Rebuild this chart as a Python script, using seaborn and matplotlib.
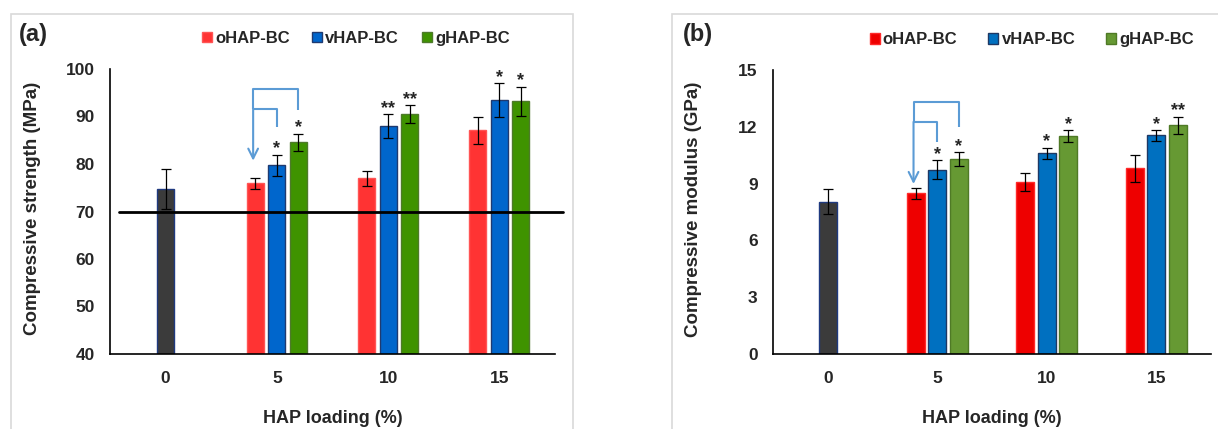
import numpy as np
import pandas as pd
import matplotlib
matplotlib.use("Agg")
import matplotlib.pyplot as plt
import seaborn as sns
from matplotlib.patches import Rectangle
from matplotlib.ticker import AutoMinorLocator, MultipleLocator

# ---------------- data ----------------
loading = ["0", "5", "10", "15"]
series = ["oHAP-BC", "vHAP-BC", "gHAP-BC"]
control_name = "BC"

strength_control = 74.8
strength_control_sd = 4.2
strength_oHAP = [75.9, 77.0, 87.1]
strength_oHAP_sd = [1.1, 1.6, 2.8]
strength_vHAP = [79.7, 88.0, 93.5]
strength_vHAP_sd = [2.3, 2.5, 3.5]
strength_gHAP = [84.6, 90.5, 93.2]
strength_gHAP_sd = [1.8, 1.9, 3.1]
strength_stars_v = ["*", "**", "*"]
strength_stars_g = ["*", "**", "*"]
strength_threshold = 70

modulus_control = 8.05
modulus_control_sd = 0.65
modulus_oHAP = [8.49, 9.10, 9.81]
modulus_oHAP_sd = [0.30, 0.48, 0.70]
modulus_vHAP = [9.74, 10.60, 11.55]
modulus_vHAP_sd = [0.50, 0.30, 0.28]
modulus_gHAP = [10.28, 11.51, 12.09]
modulus_gHAP_sd = [0.37, 0.30, 0.45]
modulus_stars_v = ["*", "*", "*"]
modulus_stars_g = ["*", "*", "**"]

# comparison bracket levels (data units)
bracket_a = dict(top=95.7, inner=91.5, inner_drop=87.7, outer_drop=91.4, tip=80.7)
bracket_b = dict(top=13.32, inner=12.26, inner_drop=11.2, outer_drop=12.0, tip=8.98)

# ---------------- style ----------------
sns.set_style("white")
plt.rcParams["font.family"] = ["Liberation Sans", "DejaVu Sans"]
plt.rcParams["font.weight"] = "bold"
plt.rcParams["axes.labelweight"] = "bold"

W, H = 1218, 429
fig = plt.figure(figsize=(W / 100, H / 100), dpi=100)
fig.patch.set_facecolor("white")

ax1 = fig.add_axes([110 / W, 75 / H, 445 / W, 285 / H])
ax2 = fig.add_axes([773 / W, 75 / H, 438 / W, 284 / H])

bracket_color = "#5B9BD5"
TICK_FS = 12.5
LABEL_FS = 13.5
LEG_FS = 12


def build_df(vals, sds):
    rows = []
    for s, v, e in zip(series, vals, sds):
        for l, vv, ee in zip(loading[1:], v, e):
            rows.append(dict(loading=l, series=s, value=vv, sd=ee))
    return pd.DataFrame(rows)


def draw_panel(ax, ctrl, ctrl_sd, vals, sds, stars_v, stars_g, faces, edges,
               ctrl_face, ctrl_edge, width, gap, ctrl_width, bracket):
    df = build_df(vals, sds)
    dfc = pd.DataFrame(dict(loading=[loading[0]], series=[control_name],
                            value=[ctrl], sd=[ctrl_sd]))
    sns.barplot(data=df, x="loading", y="value", hue="series", order=loading,
                hue_order=series, palette=dict(zip(series, faces)),
                width=width, gap=gap, errorbar=None, saturation=1,
                legend=False, ax=ax)
    cont_series = list(ax.containers)
    sns.barplot(data=dfc, x="loading", y="value", order=loading,
                color=ctrl_face, width=ctrl_width, errorbar=None,
                saturation=1, ax=ax)
    cont_ctrl = ax.containers[-1]

    sd_lookup = {(r.series, r.loading): r.sd for r in df.itertuples()}
    sd_lookup[(control_name, loading[0])] = ctrl_sd
    star_lookup = {}
    for l, sv, sg in zip(loading[1:], stars_v, stars_g):
        star_lookup[(series[1], l)] = sv
        star_lookup[(series[2], l)] = sg

    centers = {}
    groups = list(zip(series, cont_series, edges)) + [(control_name, cont_ctrl, ctrl_edge)]
    for name, cont, ec in groups:
        for bar in cont:
            h = bar.get_height()
            if not np.isfinite(h) or h == 0:
                continue
            cx = bar.get_x() + bar.get_width() / 2
            lab = loading[int(round(cx))]
            bar.set_edgecolor(ec)
            bar.set_linewidth(1.0)
            centers[(name, lab)] = (cx, h)
            sd = sd_lookup[(name, lab)]
            ax.errorbar(cx, h, yerr=sd, fmt="none", ecolor="black",
                        elinewidth=0.9, capsize=3.5, capthick=0.9, zorder=5)
            st = star_lookup.get((name, lab))
            if st:
                ax.annotate(st, xy=(cx, h + sd), xytext=(0, 1.0),
                            textcoords="offset points", ha="center",
                            va="baseline", fontsize=13, fontweight="bold",
                            zorder=6)

    # comparison bracket at 5 %
    xr = centers[(series[0], loading[1])][0] - 0.02
    xv = centers[(series[1], loading[1])][0]
    xg = centers[(series[2], loading[1])][0]
    kw = dict(color=bracket_color, lw=1.5, solid_capstyle="butt", zorder=4)
    ax.plot([xr, xr, xg, xg], [bracket["inner"], bracket["top"], bracket["top"],
                               bracket["outer_drop"]], **kw)
    ax.plot([xr, xv, xv], [bracket["inner"], bracket["inner"],
                           bracket["inner_drop"]], **kw)
    ax.annotate("", xy=(xr, bracket["tip"]), xytext=(xr, bracket["inner"]),
                arrowprops=dict(arrowstyle="->,head_length=0.7,head_width=0.35",
                                color=bracket_color, lw=1.5, shrinkA=0, shrinkB=0),
                zorder=4)

    # axes styling
    ax.set_xlim(-0.5, len(loading) - 0.5)
    sns.despine(ax=ax)
    for sp in ("left", "bottom"):
        ax.spines[sp].set_linewidth(1.2)
        ax.spines[sp].set_color("black")
    ax.set_xticks(range(len(loading)))
    ax.set_xticklabels(loading)
    ax.set_xticks(np.arange(-0.5, len(loading), 1.0), minor=True)
    ax.tick_params(axis="x", which="major", length=0, pad=12, labelsize=TICK_FS)
    ax.tick_params(axis="x", which="minor", direction="in", length=4, width=1.1,
                   color="black")
    ax.tick_params(axis="y", which="major", direction="inout", length=8,
                   width=1.1, color="black", labelsize=TICK_FS, pad=7)
    ax.tick_params(axis="y", which="minor", direction="in", length=4,
                   width=1.1, color="black")
    return cont_series


cont_a = draw_panel(ax1, strength_control, strength_control_sd,
                    [strength_oHAP, strength_vHAP, strength_gHAP],
                    [strength_oHAP_sd, strength_vHAP_sd, strength_gHAP_sd],
                    strength_stars_v, strength_stars_g,
                    ["#FF3333", "#0066CC", "#3F9300"],
                    ["#FF5555", "#1F3A70", "#4E7A2A"],
                    "#3B3B3B", "#1F3A80", 0.58, 0.2, 0.155, bracket_a)
ax1.set_ylim(40, 100)
ax1.yaxis.set_major_locator(MultipleLocator(10))
ax1.axhline(strength_threshold, xmin=0.02, xmax=1.018, color="black", lw=2,
            clip_on=False, zorder=3)
ax1.set_ylabel("Compressive strength (MPa)", fontsize=LABEL_FS)
ax1.set_xlabel("HAP loading (%)", fontsize=13)
ax1.yaxis.set_label_coords(-0.155, 0.51)
ax1.xaxis.set_label_coords(0.5, -0.196)
ax1.legend(cont_a, series, loc="center", bbox_to_anchor=(0.552, 1.107), ncol=3,
           frameon=False, handlelength=0.6, handleheight=0.6,
           handletextpad=0.2, columnspacing=1.35,
           prop=dict(size=LEG_FS, weight="bold"))

cont_b = draw_panel(ax2, modulus_control, modulus_control_sd,
                    [modulus_oHAP, modulus_vHAP, modulus_gHAP],
                    [modulus_oHAP_sd, modulus_vHAP_sd, modulus_gHAP_sd],
                    modulus_stars_v, modulus_stars_g,
                    ["#EE0000", "#0070C0", "#669933"],
                    ["#FF2A2A", "#1F3864", "#4F7A26"],
                    "#3B3B3B", "#1F3A80", 0.59, 0.16, 0.165, bracket_b)
ax2.set_ylim(0, 15)
ax2.yaxis.set_major_locator(MultipleLocator(3))
ax2.yaxis.set_minor_locator(AutoMinorLocator(2))
ax2.set_ylabel("Compressive modulus (GPa)", fontsize=LABEL_FS)
ax2.set_xlabel("HAP loading (%)", fontsize=13)
ax2.yaxis.set_label_coords(-0.162, 0.51)
ax2.xaxis.set_label_coords(0.5, -0.197)
ax2.legend(cont_b, series, loc="center", bbox_to_anchor=(0.591, 1.107), ncol=3,
           frameon=False, handlelength=0.6, handleheight=0.6,
           handletextpad=0.2, columnspacing=1.85,
           prop=dict(size=LEG_FS, weight="bold"))

# panel frames and letters
fig.patches.append(Rectangle((11 / W, -0.02), (573 - 11) / W, (H - 14) / H + 0.02,
                             transform=fig.transFigure, fill=False,
                             edgecolor="#D9D9D9", lw=1.2))
fig.patches.append(Rectangle((672 / W, -0.02), (1240 - 672) / W, (H - 14) / H + 0.02,
                             transform=fig.transFigure, fill=False,
                             edgecolor="#D9D9D9", lw=1.2))
fig.text(19 / W, 1 - 35 / H, "(a)", fontsize=17, fontweight="bold", va="center")
fig.text(683 / W, 1 - 35 / H, "(b)", fontsize=17, fontweight="bold", va="center")

fig.savefig("out.png", dpi=100)
